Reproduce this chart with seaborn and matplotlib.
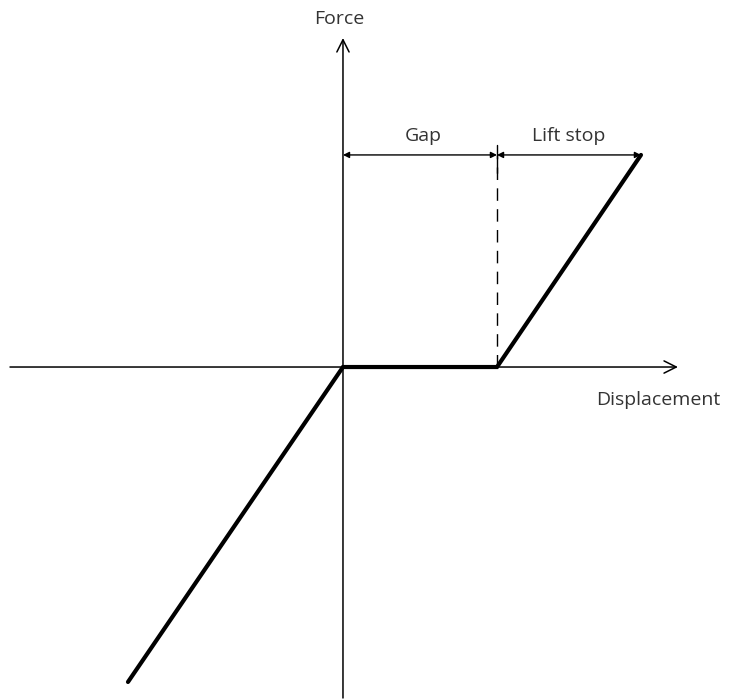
import numpy as np
import pandas as pd
import seaborn as sns
import matplotlib.pyplot as plt

# ---------------- DATA ----------------
displacement = [-1.396, 0.0, 1.0, 1.935]
force = [-2.045, 0.0, 0.0, 1.377]
gap_end = 1.0
lift_end = 1.935
dim_y = 1.377

# ---------------- STYLE ----------------
sns.set_style("white")
plt.rcParams["font.family"] = ["Open Sans", "DejaVu Sans"]

fig = plt.figure(figsize=(7.3, 7.0), dpi=100)
ax = fig.add_axes([0, 0, 1, 1])
ax.set_xlim(-2.227, 2.513)
ax.set_ylim(-2.162, 2.383)
ax.axis("off")

# axes with open arrow heads
axis_kw = dict(arrowstyle="->", color="black", lw=1.1, mutation_scale=22, shrinkA=0, shrinkB=0)
ax.annotate("", xy=(2.175, 0), xytext=(-2.162, 0), arrowprops=axis_kw)
ax.annotate("", xy=(0, 2.136), xytext=(0, -2.149), arrowprops=axis_kw)

# force-displacement curve
df = pd.DataFrame({"Displacement": displacement, "Force": force})
sns.lineplot(data=df, x="Displacement", y="Force", sort=False, color="black",
             lw=3, ax=ax, solid_capstyle="round", solid_joinstyle="miter")

# dashed line at gap end
ax.plot([gap_end, gap_end], [0, dim_y], color="black", lw=1.0, ls=(0, (9, 6)))

# dimension arrows
dim_kw = dict(arrowstyle="<|-|>", color="black", lw=1.0, mutation_scale=9, shrinkA=0, shrinkB=0)
ax.annotate("", xy=(0, dim_y), xytext=(gap_end, dim_y), arrowprops=dim_kw)
ax.annotate("", xy=(gap_end, dim_y), xytext=(lift_end, dim_y), arrowprops=dim_kw)
ax.plot([gap_end, gap_end], [dim_y - 0.117, dim_y + 0.065], color="black", lw=1.0)

# labels
tk = dict(fontsize=14, color="#333333", ha="center", va="center")
ax.text(-0.026, 2.26, "Force", **tk)
ax.text(2.045, -0.214, "Displacement", **tk)
ax.text(0.519, 1.5, "Gap", **tk)
ax.text(1.468, 1.5, "Lift stop", **tk)

plt.savefig("out.png", dpi=100)
